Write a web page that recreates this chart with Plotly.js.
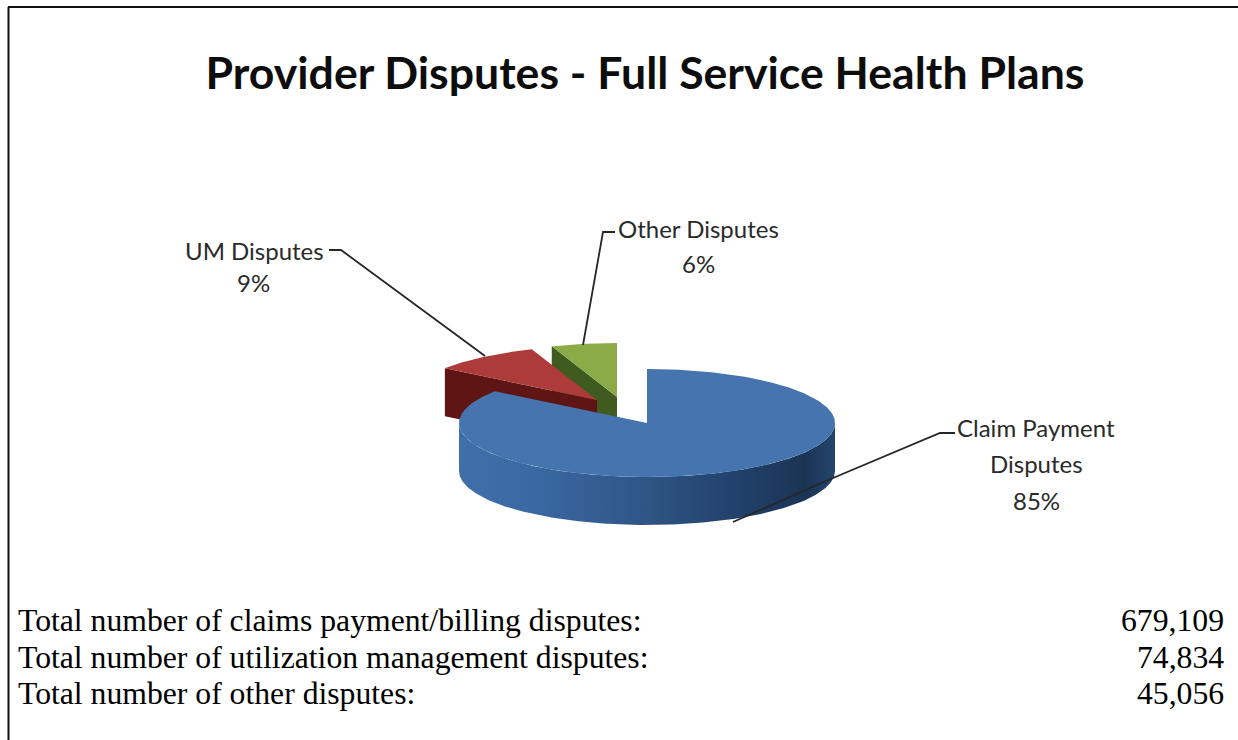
<!DOCTYPE html>
<html>
<head>
<meta charset="utf-8">
<script src="https://cdn.plot.ly/plotly-3.0.1.min.js"></script>
<style>html,body{margin:0;padding:0;background:#fff;overflow:hidden}#chart{width:1238px;height:740px}</style>
</head>
<body>
<div id="chart"></div>
<script>
// Dispute counts per category
const categories = ['Claim Payment Disputes', 'UM Disputes', 'Other Disputes'];
const disputeCounts = [679109, 74834, 45056];
const summaryLabels = [
  'Total number of claims payment/billing disputes:',
  'Total number of utilization management disputes:',
  'Total number of other disputes:'
];
const chartTitle = 'Provider Disputes - Full Service Health Plans';

// Tilted pie geometry, in pixel units of the hidden axes
const cx = 647, cy = 423, rx = 188, ry = 54, depth = 48;
const sliceOffsets = [[0, 0], [-50, -23], [-30, -26]];
const topColors = ['#4674ae', '#ad3b3a', '#8aab48'];
const cutColors = [null, '#5e1513', '#3f5b1f'];
const wallScale = [[0, '#3f6fab'], [0.2, '#3b68a2'], [0.5, '#2f5585'], [0.75, '#21406a'], [0.92, '#1b3455'], [1, '#24466e']];

const total = disputeCounts.reduce((a, b) => a + b, 0);
const arcPoint = (deg, ox, oy, drop) => {
  const t = deg * Math.PI / 180;
  return [cx + ox + rx * Math.sin(t), cy + oy + drop - ry * Math.cos(t)];
};
const arc = (from, to, ox, oy, drop) => {
  const pts = [];
  const n = Math.max(2, Math.ceil(Math.abs(to - from) * 1.5));
  for (let i = 0; i <= n; i++) pts.push(arcPoint(from + (to - from) * i / n, ox, oy, drop));
  return pts;
};
const polygon = (pts, color, name) => ({
  type: 'scatter', mode: 'lines', x: pts.map(p => p[0]), y: pts.map(p => p[1]),
  fill: 'toself', fillcolor: color, line: {width: 0}, name, hoverinfo: 'name'
});

// Angular span of each slice, clockwise from twelve o'clock
let running = 0;
const spans = disputeCounts.map(v => {
  const s = [running, running + v / total * 360];
  running = s[1];
  return s;
});

const traces = [];
// Exploded slices are painted back to front
[2, 1].forEach(i => {
  const [a, b] = spans[i];
  const [ox, oy] = sliceOffsets[i];
  const apex = [cx + ox, cy + oy];
  const outer = arcPoint(a, ox, oy, 0);
  traces.push(polygon([outer, apex, [apex[0], apex[1] + depth], [outer[0], outer[1] + depth]], cutColors[i], categories[i]));
  traces.push(polygon([apex, ...arc(a, b, ox, oy, 0)], topColors[i], categories[i]));
});
// Main slice: curved front wall with a horizontal shading, then the top face
const wall = polygon([...arc(90, 270, 0, 0, 0), ...arc(270, 90, 0, 0, depth)], '#33598c', categories[0]);
wall.fillgradient = {type: 'horizontal', colorscale: wallScale};
traces.push(wall);
traces.push(polygon([[cx, cy], ...arc(spans[0][0], spans[0][1], 0, 0, 0)], topColors[0], categories[0]));

// Leader lines from the data labels to their slices
const leader = (xs, ys) => ({
  type: 'scatter', mode: 'lines', x: xs, y: ys,
  line: {color: '#262626', width: 1.8}, hoverinfo: 'skip'
});
traces.push(leader([329, 341, 485], [250, 250, 356]));
traces.push(leader([615, 603, 583], [232, 232, 345]));
traces.push(leader([955, 940, 833, 733], [433, 433, 478, 522]));

const percent = i => Math.round(disputeCounts[i] / total * 100) + '%';
const labelFont = {family: 'Lato, "Open Sans", sans-serif', size: 24, color: '#2a2a2a'};
const text = (x, y, t, font, anchor) => ({
  x, y, text: t, xref: 'x', yref: 'y', showarrow: false, font,
  xanchor: anchor || 'center', yanchor: 'middle'
});
const serif = {family: '"Liberation Serif", serif', size: 31.7, color: '#000'};
const rowY = [620, 657, 693];
const annotations = [
  text(254, 250, 'UM Disputes', labelFont),
  text(253, 282, percent(1), labelFont),
  text(698, 228, 'Other Disputes', labelFont),
  text(698, 263, percent(2), labelFont),
  text(1036, 427, 'Claim Payment', labelFont),
  text(1036, 463, 'Disputes', labelFont),
  text(1036, 500, percent(0), labelFont),
  ...summaryLabels.map((s, i) => text(16, rowY[i], s, serif, 'left')),
  ...disputeCounts.map((v, i) => text(1226, rowY[i], v.toLocaleString('en-US'), serif, 'right'))
];

const layout = {
  width: 1238, height: 740,
  margin: {l: 0, r: 0, t: 0, b: 0},
  paper_bgcolor: '#fff', plot_bgcolor: '#fff',
  showlegend: false,
  title: {text: '<b>' + chartTitle + '</b>', x: 645 / 1238, xanchor: 'center', y: 1 - 73 / 740, yanchor: 'middle',
          font: {family: 'Lato, "Open Sans", sans-serif', size: 44.6, color: '#0d0d0d'}},
  xaxis: {range: [0, 1238], visible: false, fixedrange: true},
  yaxis: {range: [740, 0], visible: false, fixedrange: true},
  annotations,
  shapes: [
    {type: 'line', xref: 'paper', yref: 'paper', x0: 8 / 1238, x1: 1, y0: 1 - 7 / 740, y1: 1 - 7 / 740, line: {color: '#111', width: 2}},
    {type: 'line', xref: 'paper', yref: 'paper', x0: 8.5 / 1238, x1: 8.5 / 1238, y0: 1 - 7 / 740, y1: 0, line: {color: '#111', width: 2}}
  ]
};
Plotly.newPlot('chart', traces, layout, {displayModeBar: false, responsive: false});
</script>
</body>
</html>
